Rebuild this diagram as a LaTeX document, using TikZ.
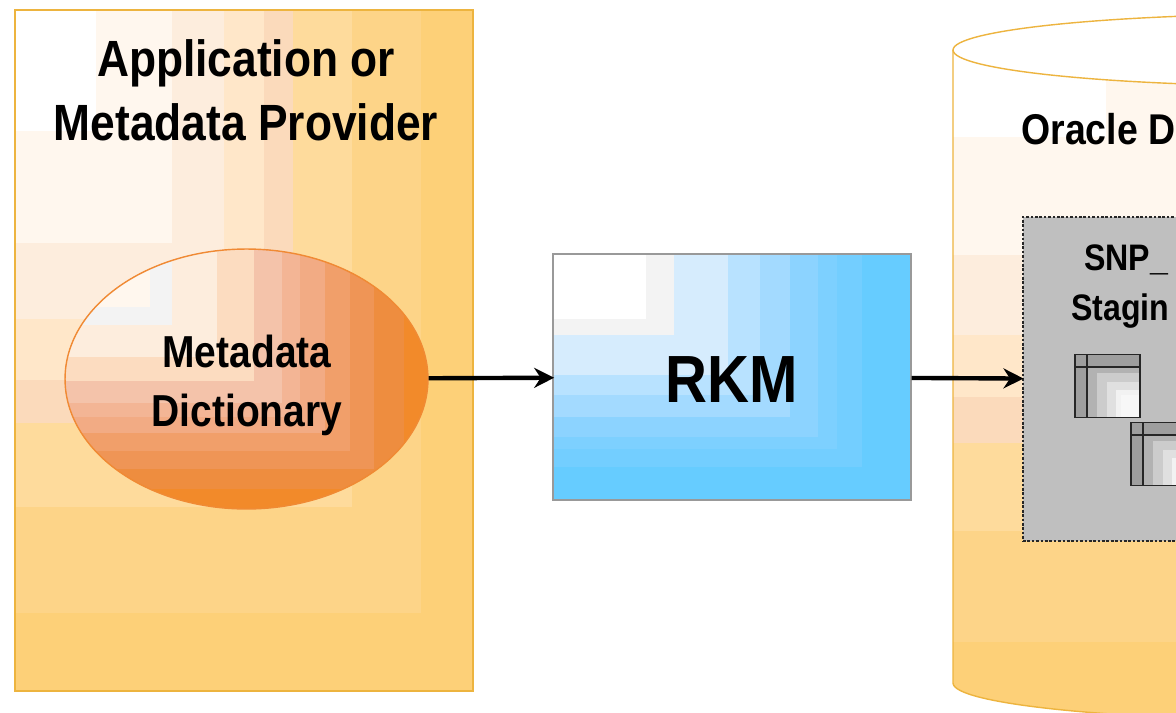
\documentclass[tikz,border=0pt]{standalone}
\usepackage{fontspec}
\setmainfont{Liberation Sans}[FakeStretch=0.87]
\usetikzlibrary{shapes, arrows.meta, positioning}
\definecolor{gold}{HTML}{EDB43F}
\definecolor{dictedge}{HTML}{F08A34}
\definecolor{bandcol}{HTML}{FFFFFF}
\tikzset{
    provider/.style={rectangle, draw=gold, line width=0.8pt, minimum width=9.16cm, minimum height=13.62cm},
    dict/.style={ellipse, draw=dictedge, line width=0.8pt, minimum width=7.26cm, minimum height=5.2cm, inner sep=0pt},
    dictlabel/.style={align=center, font=\bfseries\fontsize{25.5}{33.6}\selectfont},
    rkm/.style={rectangle, draw=black!40, line width=0.7pt, minimum width=7.16cm, minimum height=4.92cm, text height=29.5pt, font=\bfseries\fontsize{38}{44}\selectfont},
    staging/.style={rectangle, draw=black!85, densely dotted, line width=1.5pt, fill=black!25, minimum width=3.54cm, minimum height=6.48cm},
    tablebox/.style={rectangle, draw=black!85, line width=0.8pt, minimum width=1.3cm, minimum height=1.26cm},
    title/.style={align=center, font=\bfseries\fontsize{29}{36.4}\selectfont},
    small/.style={anchor=base west, inner sep=0pt, font=\bfseries\fontsize{21}{26}\selectfont},
    arrow/.style={line width=2.5pt, -{Stealth[length=4mm, width=4mm]}, shorten >=-1pt}
}
\begin{document}
\begin{tikzpicture}[x=0.02cm, y=-0.02cm]
        \useasboundingbox (0,0) rectangle (1176,713);

        % Application or Metadata Provider
        \foreach \rx/\by/\col in {473/691/FDD078, 421/613/FDD488, 352/507/FEDB9C, 293/423/FBDABB, 264/380/FFE7C9, 224/319/FDEDDD, 172/243/FFF7EE, 96/131/FFFFFF} {
            \definecolor{bandcol}{HTML}{\col}
            \fill[bandcol] (15,10) rectangle (\rx,\by);
        }
        \node (provider) [provider] at (244,350.5) {};
        \node (provider_label) [title] at (246,90.5) {Application or\\Metadata Provider};

        % Metadata Dictionary
        \begin{scope}
            \clip (246.5,379) ellipse [x radius=181.5, y radius=130];
            \foreach \rx/\by/\col in {428/509/F28A2A, 404/489/EE8D3F, 374/469/EF9556, 350/451/F19F6A, 325/433/F2AB84, 300/417/F3B595, 282/403/F4C3AA, 254/381/FCDCC0, 217/357/FDEDDD, 172/325/F3F3F3, 150/307/FFF7EE} {
                \definecolor{bandcol}{HTML}{\col}
                \fill[bandcol] (65,249) rectangle (\rx,\by);
            }
        \end{scope}
        \node (dict) [dict] at (246.5,379) {};
        \node (dict_label) [dictlabel] at (247,385) {Metadata\\Dictionary};

        % RKM
        \foreach \rx/\by/\col in {911/500/66CCFF, 862/467/73CEFF, 837/449/7DD0FF, 818/437/8CD3FF, 790/417/A3DAFF, 760/395/B8E2FF, 728/375/D6ECFD, 674/335/F3F3F3, 646/319/FFFFFF} {
            \definecolor{bandcol}{HTML}{\col}
            \fill[bandcol] (553,254) rectangle (\rx,\by);
        }
        \node (rkm) [rkm] at (732,377) {RKM};

        % Oracle Database
        \begin{scope}
            \clip (953,50) -- (953,683) arc [start angle=180, end angle=0, x radius=348, y radius=37] -- (1301,50) -- cycle;
            \foreach \by/\col in {720/FDD078, 642/FDD488, 531/FEDB9C, 443/FBDABB, 397/FFE7C9, 335/FDEDDD, 255/FFF7EE} {
                \definecolor{bandcol}{HTML}{\col}
                \fill[bandcol] (953,10) rectangle (1300,\by);
            }
            \fill[white] (953,10) rectangle (1106,137);
        \end{scope}
        \draw[gold, line width=0.8pt, fill=white] (1301,50) ellipse [x radius=348, y radius=36];
        \draw[gold, line width=0.8pt] (953,50) -- (953,683) arc [start angle=180, end angle=0, x radius=348, y radius=37];
        \node (oracle_label) [small, font=\bfseries\fontsize{24.5}{30}\selectfont] at (1021,144) {Oracle D};

        % Staging area
        \node (staging) [staging] at (1111.5,379) {};
        \node (staging_name) [small] at (1084,270) {SNP\_};
        \node (staging_label) [small] at (1071,320) {Stagin};

        \foreach \tx/\ty in {1075/354, 1131/422} {
            \fill[black!38] (\tx,\ty) rectangle (\tx+65,\ty+64);
            \foreach \ox/\oy/\shade in {12/12/30, 22/19/20, 32/28/12, 41/36/5, 46/41/3} {
                \fill[black!\shade] (\tx+\ox,\ty+\oy) rectangle (\tx+65,\ty+64);
            }
            \node (table_\tx) [tablebox] at (\tx+32.5,\ty+32) {};
            \draw[black!85, line width=0.8pt] (\tx,\ty+13) -- (\tx+65,\ty+13);
            \draw[black!85, line width=0.8pt] (\tx+12,\ty) -- (\tx+12,\ty+64);
        }

        \draw[arrow] (dict) -- (rkm);
        \draw[arrow] (rkm) -- (staging);
    \end{tikzpicture}
\end{document}
